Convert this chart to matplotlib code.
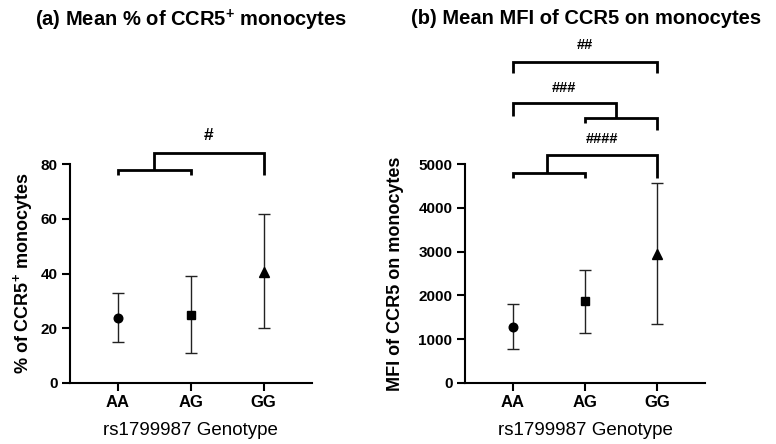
import matplotlib
matplotlib.use("Agg")
import matplotlib.pyplot as plt

plt.rcParams['font.family'] = ['Liberation Sans', 'DejaVu Sans']
plt.rcParams['mathtext.fontset'] = 'custom'
plt.rcParams['mathtext.rm'] = 'Liberation Sans'
plt.rcParams['mathtext.bf'] = 'Liberation Sans:bold'

genotypes = ['AA', 'AG', 'GG']
markers = ['o', 's', '^']

# (a) % of CCR5+ monocytes: mean, lower and upper end of the bars
pct_mean = [23.9, 24.9, 40.6]
pct_low = [15.0, 11.0, 20.1]
pct_high = [32.7, 39.0, 61.7]

# (b) MFI of CCR5 on monocytes
mfi_mean = [1285, 1868, 2935]
mfi_low = [768, 1148, 1344]
mfi_high = [1809, 2590, 4565]

# significance brackets: (x0, x1, y, left tip, right tip)
pct_brackets = [(0, 1, 77.8, 76.0, 76.0),
                (0.49, 2, 84.2, 77.8, 76.1)]
pct_labels = [(1.25, 90.3, '#')]

mfi_brackets = [(0, 2, 7335, 7084, 7084),
                (1, 2, 6046, 5945, 5779),
                (0, 1.43, 6401, 6098, 6046),
                (0, 1, 4806, 4692, 4692),
                (0.47, 2, 5210, 4806, 4692)]
mfi_labels = [(1.0, 7715, '##'), (0.715, 6743, '###'), (1.24, 5567, '####')]


def draw_panel(ax, means, lows, highs, brackets, labels, ymax, yticks,
               ylabel, ylabel_x, hash_size):
    x = list(range(len(genotypes)))
    for i in x:
        ax.errorbar(i, means[i],
                    yerr=[[means[i] - lows[i]], [highs[i] - means[i]]],
                    fmt=markers[i], color='black', ecolor='#222222',
                    elinewidth=1.0, capsize=4, capthick=1.0,
                    markersize=7 if markers[i] == '^' else 6.2,
                    clip_on=False, zorder=3)
    for x0, x1, y, t0, t1 in brackets:
        ax.plot([x0, x0, x1, x1], [t0, y, y, t1], color='black', lw=2.0,
                solid_capstyle='butt', solid_joinstyle='miter',
                clip_on=False)
    for lx, ly, txt in labels:
        ax.text(lx, ly, txt, ha='center', va='center', fontsize=hash_size,
                fontweight='bold')

    ax.set_xlim(-0.66, 2.66)
    ax.set_ylim(0, ymax)
    ax.set_xticks(x)
    ax.set_xticklabels(genotypes, fontsize=12, fontweight='bold')
    ax.set_yticks(yticks)
    ax.set_yticklabels([str(t) for t in yticks], fontsize=11, fontweight='bold')
    for s in ['top', 'right']:
        ax.spines[s].set_visible(False)
    for s in ['left', 'bottom']:
        ax.spines[s].set_linewidth(1.5)
    ax.tick_params(width=1.5, length=6, pad=3)
    ax.set_ylabel(ylabel, fontsize=13, fontweight='bold')
    ax.yaxis.set_label_coords(ylabel_x, 0.5)
    ax.set_xlabel('rs1799987 Genotype', fontsize=13.5)
    ax.xaxis.set_label_coords(0.5, -0.18)


fig = plt.figure(figsize=(7.76, 4.44), dpi=100)
ax1 = fig.add_axes([0.0902, 0.1374, 0.3115, 0.4932])
ax2 = fig.add_axes([0.5992, 0.1374, 0.3093, 0.4932])

draw_panel(ax1, pct_mean, pct_low, pct_high, pct_brackets, pct_labels,
           80, [0, 20, 40, 60, 80], r'% of CCR5$^{\mathbf{+}}$ monocytes',
           -0.145, 12.5)
draw_panel(ax2, mfi_mean, mfi_low, mfi_high, mfi_brackets, mfi_labels,
           5000, [0, 1000, 2000, 3000, 4000, 5000],
           'MFI of CCR5 on monocytes', -0.255, 10.5)

fig.text(0.246, 0.955, r'(a) Mean % of CCR5$^{\mathbf{+}}$ monocytes',
         fontsize=14.5, fontweight='bold', ha='center', va='center')
fig.text(0.755, 0.958, '(b) Mean MFI of CCR5 on monocytes',
         fontsize=14.5, fontweight='bold', ha='center', va='center')

fig.savefig('out.png', dpi=100, facecolor='white')
